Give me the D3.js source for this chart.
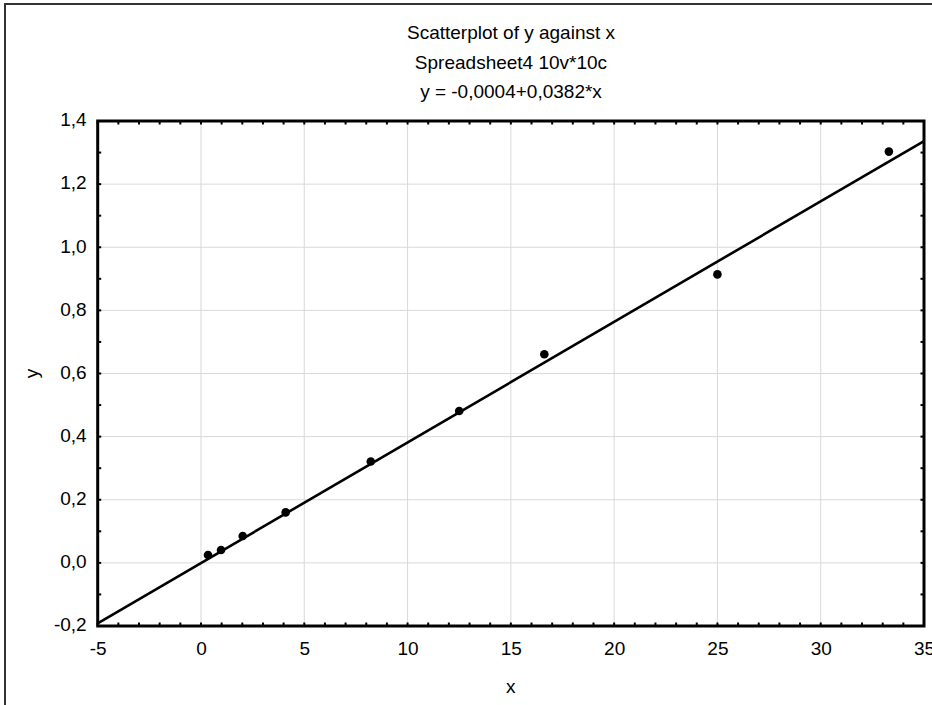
<!DOCTYPE html>
<html>
<head>
<meta charset="utf-8">
<script src="https://cdn.jsdelivr.net/npm/d3@7"></script>
<style>
  html, body { margin: 0; padding: 0; background: #fff; }
  svg { display: block; }
  text { font-family: "Liberation Sans", Arial, sans-serif; fill: #000; }
</style>
</head>
<body>
<svg id="chart" width="932" height="705"></svg>
<script>
// ---- data ----
const xValues = [0.34, 0.97, 2.02, 4.1, 8.22, 12.5, 16.62, 25.0, 33.3];
const yValues = [0.025, 0.041, 0.085, 0.160, 0.321, 0.481, 0.661, 0.914, 1.303];
const xTicks = [-5, 0, 5, 10, 15, 20, 25, 30, 35];
const yTicks = [-0.2, 0.0, 0.2, 0.4, 0.6, 0.8, 1.0, 1.2, 1.4];
const fitIntercept = -0.0004;
const fitSlope = 0.0382;
const titleLines = ["Scatterplot of y against x", "Spreadsheet4 10v*10c", "y = -0,0004+0,0382*x"];
const xLabel = "x";
const yLabel = "y";

// ---- layout ----
const FS = 19;
const svg = d3.select("#chart");
const L = 97.7, R = 924, T = 121, B = 626;
const x = d3.scaleLinear().domain([-5, 35]).range([L, R]);
const y = d3.scaleLinear().domain([-0.2, 1.4]).range([B, T]);
const fmtY = v => d3.format(".1f")(v).replace(".", ",").replace("−", "-");
const fmtX = v => String(v).replace("−", "-");

// outer border
svg.append("rect").attr("x", 5).attr("y", 4).attr("width", 940).attr("height", 720)
  .attr("fill", "none").attr("stroke", "#333").attr("stroke-width", 2);

// titles
svg.selectAll("text.title").data(titleLines).enter().append("text")
  .attr("class", "title")
  .attr("x", 511).attr("y", (d, i) => 39 + i * 29.5)
  .attr("text-anchor", "middle").attr("font-size", FS).text(d => d);

// gridlines
const grid = svg.append("g");
grid.selectAll("line.gx").data(xTicks.slice(1, -1)).enter().append("line")
  .attr("x1", d => x(d)).attr("x2", d => x(d)).attr("y1", T).attr("y2", B)
  .attr("stroke", "#d9d9d9").attr("stroke-width", 1);
grid.selectAll("line.gy").data(yTicks.slice(1, -1)).enter().append("line")
  .attr("y1", d => y(d)).attr("y2", d => y(d)).attr("x1", L).attr("x2", R)
  .attr("stroke", "#d9d9d9").attr("stroke-width", 1);

// axes with D3 axis generators (labels)
const xAxis = d3.axisBottom(x).tickValues(xTicks).tickSize(0).tickPadding(16).tickFormat(fmtX);
const yAxis = d3.axisLeft(y).tickValues(yTicks).tickSize(0).tickPadding(11).tickFormat(fmtY);
const gx = svg.append("g").attr("transform", `translate(0,${B})`).call(xAxis);
const gy = svg.append("g").attr("transform", `translate(${L},0)`).call(yAxis);
[gx, gy].forEach(g => {
  g.attr("font-size", FS).attr("font-family", "Liberation Sans, Arial, sans-serif");
  g.select(".domain").remove();
  g.selectAll("text").attr("font-size", FS);
});
gy.selectAll("text").attr("dy", "0.25em");

// minor/major inward ticks
const xMinor = d3.range(-5, 35.01, 1);
const yMinor = d3.range(-0.2, 1.401, 0.1);
const tk = svg.append("g").attr("stroke", "#000").attr("stroke-width", 2);
xMinor.forEach(v => {
  tk.append("line").attr("x1", x(v)).attr("x2", x(v)).attr("y1", T).attr("y2", T + 3.5);
  tk.append("line").attr("x1", x(v)).attr("x2", x(v)).attr("y1", B).attr("y2", B - 3.5);
});
yMinor.forEach(v => {
  tk.append("line").attr("y1", y(v)).attr("y2", y(v)).attr("x1", L).attr("x2", L + 3.5);
  tk.append("line").attr("y1", y(v)).attr("y2", y(v)).attr("x1", R).attr("x2", R - 3.5);
});

// fit line
const fitX = [-5, 35];
svg.append("line")
  .attr("x1", x(fitX[0])).attr("y1", y(fitIntercept + fitSlope * fitX[0]))
  .attr("x2", x(fitX[1])).attr("y2", y(fitIntercept + fitSlope * fitX[1]))
  .attr("stroke", "#000").attr("stroke-width", 2.6);

// points
svg.selectAll("circle.pt").data(xValues.map((v, i) => [v, yValues[i]])).enter().append("circle")
  .attr("cx", d => x(d[0])).attr("cy", d => y(d[1])).attr("r", 4.3).attr("fill", "#000");

// frame
svg.append("rect").attr("x", L).attr("y", T).attr("width", R - L).attr("height", B - T)
  .attr("fill", "none").attr("stroke", "#000").attr("stroke-width", 3);

// axis titles
svg.append("text").attr("x", x(15)).attr("y", 693).attr("text-anchor", "middle")
  .attr("font-size", FS).text(xLabel);
svg.append("text").attr("transform", `translate(38,${y(0.6)}) rotate(-90)`)
  .attr("text-anchor", "middle").attr("font-size", FS).text(yLabel);
</script>
</body>
</html>
